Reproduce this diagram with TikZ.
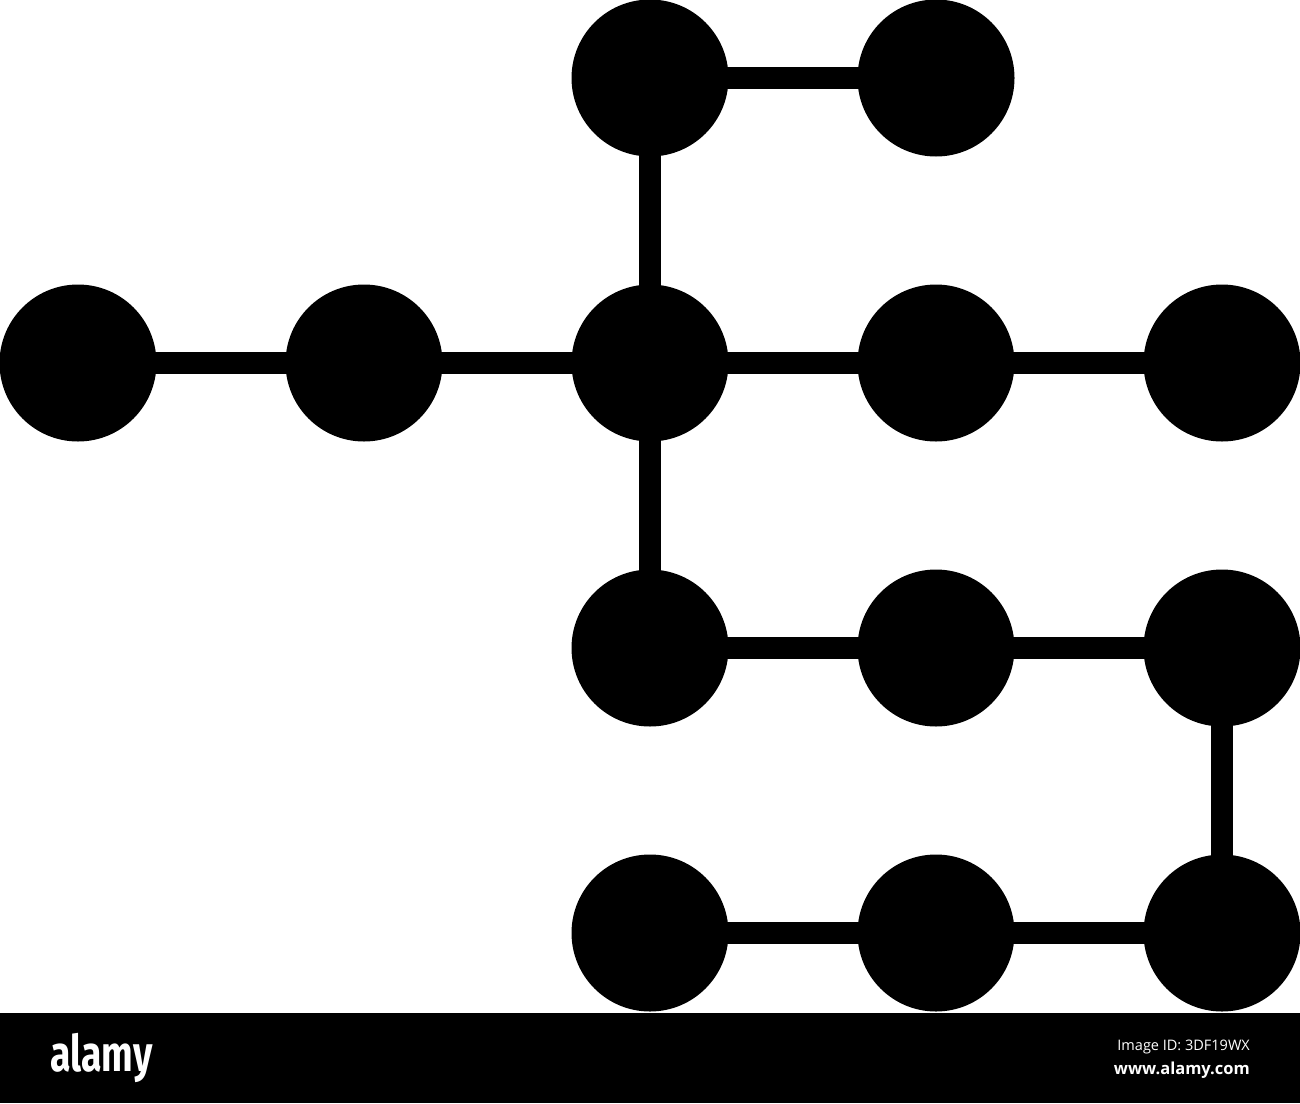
\documentclass[tikz,border=0pt]{standalone}
\usepackage{fontspec}
\newfontfamily\barfont{Open Sans}
\newfontfamily\logofont{Fira Sans}
\begin{document}
\begin{tikzpicture}[x=1pt,y=-1pt,
  dot/.style={circle,fill=black,minimum size=157pt,inner sep=0pt,outer sep=0pt},
  link/.style={line width=22pt,black}]
\useasboundingbox (0,0) rectangle (1300,1103);
\fill[white] (0,0) rectangle (1300,1103);
% nodes
\node[dot] (a1) at (650,78) {};
\node[dot] (a2) at (936,78) {};
\node[dot] (b0) at (78,363) {};
\node[dot] (b1) at (364,363) {};
\node[dot] (b2) at (650,363) {};
\node[dot] (b3) at (936,363) {};
\node[dot] (b4) at (1222,363) {};
\node[dot] (c2) at (650,648) {};
\node[dot] (c3) at (936,648) {};
\node[dot] (c4) at (1222,648) {};
\node[dot] (d2) at (650,933) {};
\node[dot] (d3) at (936,933) {};
\node[dot] (d4) at (1222,933) {};
% links (center to center, black over black)
\draw[link] (a1.center) -- (a2.center);
\draw[link] (a1.center) -- (b2.center);
\draw[link] (b0.center) -- (b1.center);
\draw[link] (b1.center) -- (b2.center);
\draw[link] (b2.center) -- (b3.center);
\draw[link] (b3.center) -- (b4.center);
\draw[link] (b2.center) -- (c2.center);
\draw[link] (c2.center) -- (c3.center);
\draw[link] (c3.center) -- (c4.center);
\draw[link] (c4.center) -- (d4.center);
\draw[link] (d2.center) -- (d3.center);
\draw[link] (d3.center) -- (d4.center);
% watermark bar
\fill[black] (0,1013) rectangle (1300,1103);
\node[anchor=base west,text=white,inner sep=0pt,xscale=0.78,yscale=1.05] (logo) at (50,1071)
  {\logofont\bfseries\fontsize{48}{48}\selectfont alamy};
\node[anchor=base east,text=white,inner sep=0pt] (imgid) at (1250,1050)
  {\barfont\fontsize{14.5}{14.5}\selectfont Image ID: 3DF19WX};
\node[anchor=base east,text=white,inner sep=0pt] (www) at (1250,1074)
  {\barfont\bfseries\fontsize{16.5}{16.5}\selectfont www.alamy.com};
\end{tikzpicture}
\end{document}
